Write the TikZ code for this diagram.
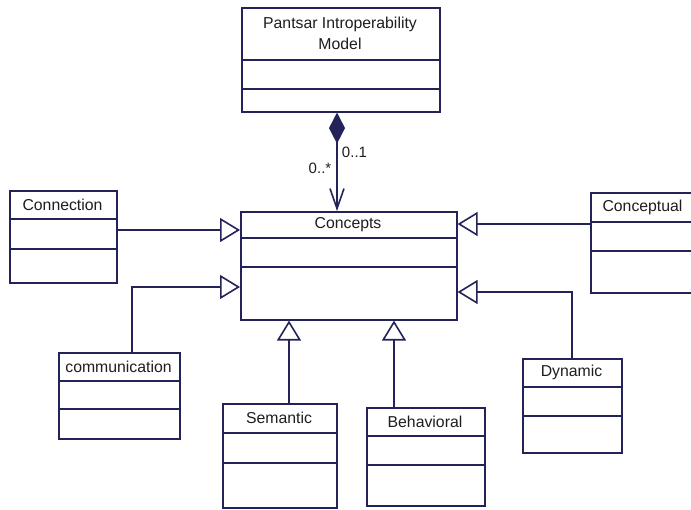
\documentclass[tikz,border=0pt]{standalone}
\usepackage{fontspec}
\setmainfont{Liberation Sans}
\usetikzlibrary{arrows.meta}
\definecolor{umlline}{RGB}{35,35,90}
\definecolor{umltext}{RGB}{30,30,30}
\newcommand\umlcls[8]{%
  \pgfmathsetmacro\uw{#4-#2}\pgfmathsetmacro\uh{#5-#3}%
  \node[clsbox, minimum width=\uw pt, minimum height=\uh pt, anchor=north west] (#1) at (#2,#3) {};
  \coordinate (#1-d1) at (0,#6);
  \coordinate (#1-d2) at (0,#7);
  \draw[clsline] (#1.west |- #1-d1) -- (#1.east |- #1-d1);
  \draw[clsline] (#1.west |- #1-d2) -- (#1.east |- #1-d2);
  \node[clstext] (#1-title) at ({(#2+#4)/2},{(#3+#6)/2}) {#8};
}
\begin{document}
\begin{tikzpicture}[x=1pt,y=-1pt,
  clsbox/.style={draw=umlline, line width=1.6pt, inner sep=0pt, fill=white},
  clsline/.style={draw=umlline, line width=1.6pt},
  clstext/.style={text=umltext, font=\fontsize{15.8}{21}\selectfont, align=center, inner sep=0pt},
  mult/.style={text=umltext, font=\fontsize{15}{18}\selectfont, inner sep=0pt},
  gen/.style={draw=umlline, line width=1.6pt, -{Triangle[open, length=20pt, width=24pt, fill=white]}},
  comp/.style={draw=umlline, line width=1.6pt, {Diamond[length=31pt, width=16pt]}-{Straight Barb[length=20pt, width=14pt]}}
]
\useasboundingbox (0,0) rectangle (691,510);
\fill[white] (0,0) rectangle (691,510);
\clip (0,0) rectangle (691,510);

\umlcls{pim}{241}{7}{439}{111}{60}{89}{Pantsar Introperability\\Model}
\umlcls{concepts}{240}{211}{456}{319}{238}{267}{Concepts}
\umlcls{conn}{9}{190}{116}{282}{219}{249}{Connection}
\umlcls{comm}{58}{352}{179}{438}{381}{409}{communication}
\umlcls{concep}{590}{192}{695}{292}{222}{251}{Conceptual}
\umlcls{dyn}{522}{358}{621}{452}{387}{416}{Dynamic}
\umlcls{sem}{222}{403}{336}{507}{433}{463}{Semantic}
\umlcls{beh}{366}{407}{484}{505}{436}{465}{Behavioral}

\coordinate (xc) at (337,0);
\coordinate (yconn) at (0,230);
\coordinate (ycomm) at (0,287);
\coordinate (xcomm) at (132,0);
\coordinate (yconcep) at (0,224);
\coordinate (ydyn) at (0,292);
\coordinate (xdyn) at (572,0);
\coordinate (xsem) at (289,0);
\coordinate (xbeh) at (394,0);

\draw[comp] (pim.south -| xc) -- (concepts.north -| xc);
\node[mult] (m1) at (354.5,152) {0..1};
\node[mult] (m2) at (320,168) {0..*};

\draw[gen] (conn.east |- yconn) -- (concepts.west |- yconn);
\draw[gen] (comm.north -| xcomm) |- (concepts.west |- ycomm);
\draw[gen] (concep.west |- yconcep) -- (concepts.east |- yconcep);
\draw[gen] (dyn.north -| xdyn) |- (concepts.east |- ydyn);
\draw[gen] (sem.north -| xsem) -- (concepts.south -| xsem);
\draw[gen] (beh.north -| xbeh) -- (concepts.south -| xbeh);
\end{tikzpicture}
\end{document}
